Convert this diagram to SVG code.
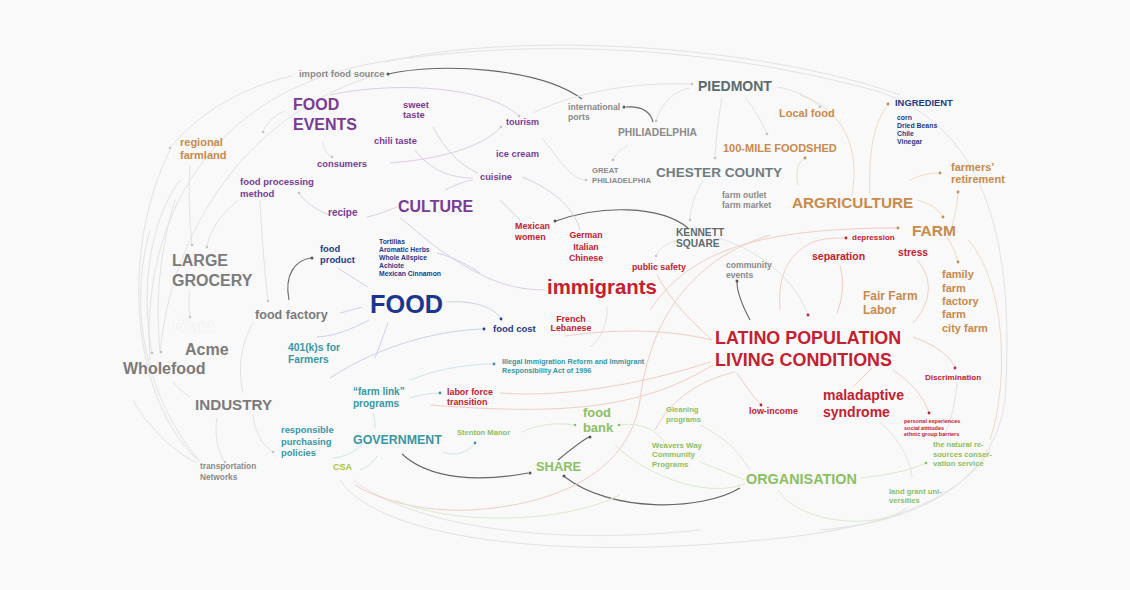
<svg xmlns="http://www.w3.org/2000/svg" width="1130" height="590" viewBox="0 0 1130 590">
<defs>
<style>
text{font-family:"Liberation Sans",Arial,sans-serif;font-weight:bold}
.pu{fill:#7a3b97}.or{fill:#c98a4b}.nv{fill:#1e3a8c}.rd{fill:#c4202f}.gy{fill:#7b7b7b}.lg{fill:#8a8a8a}.sl{fill:#5d6b70}.tl{fill:#3797a6}.gr{fill:#8cbf63}.cs{fill:#a9c43c}
.c{fill:none;stroke-width:1}
.dk{stroke:#666;stroke-width:1.1}
.lt{stroke:#e3e3e3}
.lp{stroke:#dccfe4}
.pk{stroke:#f1cdc4}
.po{stroke:#eedbc6}
.pg{stroke:#dcebd0}
.pb{stroke:#ccd2ea}
.pt{stroke:#cde6ea}
.d{fill:#555}
.dl{fill:#c4c4c4}
</style>
</defs>
<rect width="1130" height="590" fill="#f9f9f9"/>
<g id="connectors">
<path class="c lt" d="M150,360 C140,220 210,90 380,62 C520,40 700,42 880,92 C990,130 1015,250 1005,400 C995,470 940,520 820,530"/>
<path class="c lt" d="M160,355 C170,230 250,110 380,74"/>
<path class="c lt" d="M385,62 C520,30 760,45 900,95"/>
<path class="c lt" d="M200,462 C130,400 120,250 170,150"/>
<path class="c lt" d="M340,480 C380,540 560,560 760,540 C880,530 960,500 990,450"/>
<path class="c lt" d="M353,480 C420,530 560,545 700,530"/>
<path class="c lt" d="M150,230 C130,300 140,390 200,462"/>
<path class="c dk" d="M388,74 C440,62 540,68 582,99"/>
<path class="c dk" d="M653,122 C650,110 640,106 626,107"/>
<path class="c dk" d="M688,228 C660,205 600,205 556,221"/>
<path class="c dk" d="M289,300 C284,275 295,260 311,258"/>
<path class="c dk" d="M402,454 C430,480 480,482 528,473"/>
<path class="c dk" d="M558,460 C570,450 580,442 589,437"/>
<path class="c dk" d="M740,488 C700,512 610,512 565,477"/>
<path class="c dk" d="M750,320 C742,305 737,292 737,282"/>
<path class="c lt" d="M292,76 C250,85 200,110 170,148"/>
<path class="c lt" d="M285,111 C272,116 266,124 263,132"/>
<path class="c lt" d="M323,142 C324,150 328,155 332,157"/>
<path class="c lt" d="M533,113 C580,90 640,82 690,84"/>
<path class="c lt" d="M542,138 C560,160 570,178 585,180"/>
<path class="c lt" d="M628,145 C620,150 615,155 613,160"/>
<path class="c lt" d="M690,88 C670,92 660,108 656,121"/>
<path class="c lt" d="M777,87 C795,90 812,98 820,107"/>
<path class="c lt" d="M745,97 C755,110 762,122 767,134"/>
<path class="c lt" d="M722,97 C718,120 716,140 715,158"/>
<path class="c lt" d="M703,180 C695,195 690,208 690,220"/>
<path class="c lt" d="M677,240 C665,244 658,250 656,256"/>
<path class="c lt" d="M718,238 C760,250 795,280 808,315"/>
<path class="c lt" d="M190,165 C188,200 190,225 192,245"/>
<path class="c lt" d="M238,200 C220,215 210,230 207,247"/>
<path class="c lt" d="M190,292 C188,300 189,310 190,317"/>
<path class="c lt" d="M260,200 C262,240 265,275 268,301"/>
<path class="c lt" d="M253,323 C240,345 238,370 243,393"/>
<path class="c lt" d="M173,382 C178,388 184,393 190,397"/>
<path class="c lt" d="M217,418 C214,435 218,452 225,462"/>
<path class="c lt" d="M253,415 C255,432 262,445 273,452"/>
<path class="c lt" d="M133,400 C150,430 175,452 197,463"/>
<path class="c lt" d="M160,352 C155,300 160,250 175,200"/>
<path class="c lt" d="M152,353 C140,290 150,220 180,180"/>
<path class="c lt" d="M607,307 C608,325 600,340 590,347"/>
<path class="c lt" d="M880,422 C900,440 910,460 912,477"/>
<path class="c lt" d="M957,383 C955,405 950,425 943,437"/>
<path class="c lp" d="M390,163 C430,160 480,150 501,127"/>
<path class="c lp" d="M330,95 C400,80 490,88 519,116"/>
<path class="c lp" d="M433,127 C445,150 460,165 478,173"/>
<path class="c lp" d="M415,150 C430,170 450,178 473,178"/>
<path class="c lp" d="M445,190 C455,185 465,181 473,180"/>
<path class="c lp" d="M522,177 C555,190 575,210 580,230"/>
<path class="c lp" d="M500,200 C508,208 514,214 520,220"/>
<path class="c lp" d="M330,215 C315,210 303,200 299,193"/>
<path class="c lp" d="M367,217 C378,215 388,210 397,207"/>
<path class="c lp" d="M545,290 C500,290 470,270 440,250 C420,235 410,225 400,218"/>
<path class="c pb" d="M338,268 C350,276 360,282 368,287"/>
<path class="c pb" d="M340,313 C348,311 355,309 362,307"/>
<path class="c pb" d="M369,320 C350,330 335,336 317,337"/>
<path class="c pb" d="M446,302 C475,300 495,308 501,319"/>
<path class="c pb" d="M330,378 C380,345 440,330 484,329"/>
<path class="c pb" d="M388,323 C382,340 378,350 375,358"/>
<path class="c pb" d="M437,253 C455,258 470,266 480,273"/>
<path class="c pt" d="M373,413 C375,420 375,424 375,428"/>
<path class="c pt" d="M363,443 C355,452 345,457 333,458"/>
<path class="c pt" d="M377,456 C372,464 366,468 360,470"/>
<path class="c pt" d="M410,398 C420,395 430,393 440,393"/>
<path class="c pt" d="M410,380 C440,368 470,364 494,364"/>
<path class="c pt" d="M443,452 C455,457 468,452 475,443"/>
<path class="c pk" d="M712,340 C670,330 620,328 565,336"/>
<path class="c pk" d="M712,340 C690,320 670,300 657,275"/>
<path class="c pk" d="M650,310 C690,250 760,228 898,228"/>
<path class="c pk" d="M780,310 C778,280 785,255 813,242 C825,238 835,238 846,238"/>
<path class="c pk" d="M710,362 C640,385 560,398 500,393"/>
<path class="c pk" d="M713,365 C640,410 560,415 430,405"/>
<path class="c pk" d="M770,235 C690,260 650,320 640,400 C630,470 560,505 470,510 C420,512 380,500 355,485"/>
<path class="c pk" d="M840,265 C845,285 842,300 837,313"/>
<path class="c pk" d="M917,260 C935,280 930,305 913,323"/>
<path class="c pk" d="M913,337 C935,345 950,355 955,368"/>
<path class="c pk" d="M893,370 C915,385 925,400 929,413"/>
<path class="c pk" d="M737,373 C745,385 752,395 761,405"/>
<path class="c pk" d="M872,368 C865,375 858,382 853,387"/>
<path class="c pk" d="M735,372 C700,380 670,400 655,430"/>
<path class="c po" d="M800,95 C845,110 860,150 852,195"/>
<path class="c po" d="M798,185 C795,172 798,162 805,158"/>
<path class="c po" d="M870,195 C868,150 875,120 888,105"/>
<path class="c po" d="M917,200 C930,203 940,210 943,217"/>
<path class="c po" d="M950,233 C955,218 957,205 958,192"/>
<path class="c po" d="M910,180 C920,175 930,173 940,173"/>
<path class="c po" d="M947,237 C952,245 956,253 958,262"/>
<path class="c po" d="M968,240 C1005,280 1010,380 990,440"/>
<path class="c pg" d="M522,432 C535,425 555,422 575,425"/>
<path class="c pg" d="M619,425 C640,422 660,430 665,445"/>
<path class="c pg" d="M700,462 C720,470 735,476 745,480"/>
<path class="c pg" d="M700,425 C730,440 740,455 750,470"/>
<path class="c pg" d="M860,478 C890,475 910,470 926,463"/>
<path class="c pg" d="M778,490 C800,525 880,530 906,508"/>
<path class="c pg" d="M745,484 C700,500 640,470 615,445"/>
<path class="c pg" d="M395,500 C450,525 560,525 620,495"/>
</g>
<g id="dots">
<circle class="d" cx="388" cy="74" r="1.5"/><circle class="d" cx="624" cy="107" r="1.5"/><circle class="d" cx="555" cy="221" r="1.5"/><circle class="d" cx="312" cy="258" r="1.5"/><circle class="d" cx="530" cy="473" r="1.5"/><circle class="d" cx="590" cy="437" r="1.5"/><circle class="d" cx="564" cy="476" r="1.5"/><circle class="d" cx="737" cy="281" r="1.5"/>
<circle class="dl" cx="170" cy="148" r="1.3"/><circle class="dl" cx="332" cy="157" r="1.3"/><circle class="dl" cx="501" cy="127" r="1.3"/><circle class="dl" cx="519" cy="116" r="1.3"/><circle class="dl" cx="586" cy="180" r="1.3"/><circle class="dl" cx="613" cy="160" r="1.3"/><circle class="dl" cx="656" cy="121" r="1.3"/><circle class="dl" cx="692" cy="84" r="1.3"/><circle class="dl" cx="820" cy="107" r="1.3"/><circle class="dl" cx="767" cy="134" r="1.3"/><circle class="dl" cx="715" cy="158" r="1.3"/><circle class="dl" cx="690" cy="220" r="1.3"/><circle class="dl" cx="656" cy="256" r="1.3"/><circle class="dl" cx="192" cy="245" r="1.3"/><circle class="dl" cx="207" cy="247" r="1.3"/><circle class="dl" cx="190" cy="317" r="1.3"/><circle class="dl" cx="268" cy="301" r="1.3"/><circle class="dl" cx="152" cy="353" r="1.3"/><circle class="dl" cx="161" cy="352" r="1.3"/><circle class="dl" cx="225" cy="462" r="1.3"/><circle class="dl" cx="273" cy="452" r="1.3"/><circle class="dl" cx="299" cy="193" r="1.3"/><circle class="dl" cx="263" cy="132" r="1.3"/>
<circle fill="#1e3a8c" cx="501" cy="319" r="1.4"/><circle fill="#1e3a8c" cx="484" cy="329" r="1.4"/><circle fill="#3797a6" cx="494" cy="364" r="1.4"/><circle fill="#3797a6" cx="440" cy="393" r="1.4"/><circle fill="#3797a6" cx="475" cy="443" r="1.4"/>
<circle fill="#c4202f" cx="846" cy="238" r="1.4"/><circle fill="#c4202f" cx="955" cy="368" r="1.4"/><circle fill="#c4202f" cx="929" cy="413" r="1.4"/><circle fill="#c4202f" cx="761" cy="405" r="1.4"/><circle fill="#c4202f" cx="808" cy="315" r="1.4"/>
<circle fill="#c98a4b" cx="888" cy="104" r="1.4"/><circle fill="#c98a4b" cx="805" cy="158" r="1.4"/><circle fill="#c98a4b" cx="943" cy="217" r="1.4"/><circle fill="#c98a4b" cx="958" cy="192" r="1.4"/><circle fill="#c98a4b" cx="940" cy="173" r="1.4"/><circle fill="#c98a4b" cx="958" cy="262" r="1.4"/><circle fill="#c98a4b" cx="898" cy="228" r="1.4"/>
<circle fill="#8cbf63" cx="926" cy="463" r="1.3"/><circle fill="#8cbf63" cx="575" cy="425" r="1.3"/><circle fill="#8cbf63" cx="619" cy="425" r="1.3"/>
</g>
<g id="n-import"><text class="lg" x="299" y="77" font-size="9.4">import food source</text></g>
<g id="n-foodevents"><text class="pu" x="293" y="110" font-size="16">FOOD</text><text class="pu" x="293" y="130" font-size="16">EVENTS</text></g>
<g id="n-sweet"><text class="pu" x="403" y="108" font-size="9.3">sweet</text><text class="pu" x="403" y="118" font-size="9.3">taste</text></g>
<g id="n-chili"><text class="pu" x="374" y="144" font-size="9.3">chili taste</text></g>
<g id="n-tourism"><text class="pu" x="506" y="125" font-size="9">tourism</text></g>
<g id="n-ports"><text class="lg" x="568" y="110" font-size="8.7">international</text><text class="lg" x="568" y="120" font-size="8.7">ports</text></g>
<g id="n-piedmont"><text class="sl" x="698" y="91" font-size="14">PIEDMONT</text></g>
<g id="n-localfood"><text class="or" x="779" y="117" font-size="11">Local food</text></g>
<g id="n-ingredient"><text class="nv" x="895" y="106" font-size="9.4">INGREDIENT</text>
<text class="nv" x="897" y="120" font-size="6.9">corn</text><text class="nv" x="897" y="128" font-size="6.9">Dried Beans</text><text class="nv" x="897" y="136" font-size="6.9">Chile</text><text class="nv" x="897" y="144" font-size="6.9">Vinegar</text></g>
<g id="n-phila"><text class="lg" x="618" y="136" font-size="10.3">PHILIADELPHIA</text></g>
<g id="n-foodshed"><text class="or" x="723" y="152" font-size="11">100-MILE FOODSHED</text></g>
<g id="n-regional"><text class="or" x="180" y="146" font-size="11">regional</text><text class="or" x="180" y="159" font-size="11">farmland</text></g>
<g id="n-consumers"><text class="pu" x="317" y="167" font-size="9.4">consumers</text></g>
<g id="n-icecream"><text class="pu" x="496" y="157" font-size="9.3">ice cream</text></g>
<g id="n-greatphila"><text class="lg" x="592" y="173" font-size="7.7">GREAT</text><text class="lg" x="592" y="183" font-size="7.7">PHILIADELPHIA</text></g>
<g id="n-chester"><text fill="#6e7c82" x="656" y="177" font-size="13.6">CHESTER COUNTY</text></g>
<g id="n-retirement"><text class="or" x="951" y="171" font-size="11">farmers’</text><text class="or" x="951" y="183" font-size="11">retirement</text></g>
<g id="n-cuisine"><text class="pu" x="480" y="180" font-size="9.3">cuisine</text></g>
<g id="n-processing"><text class="pu" x="240" y="185" font-size="9.5">food processing</text><text class="pu" x="240" y="197" font-size="9.5">method</text></g>
<g id="n-farmoutlet"><text class="lg" x="722" y="198" font-size="8.6">farm outlet</text><text class="lg" x="722" y="208" font-size="8.6">farm market</text></g>
<g id="n-agriculture"><text class="or" x="792" y="208" font-size="15.3">ARGRICULTURE</text></g>
<g id="n-recipe"><text class="pu" x="328" y="216" font-size="10">recipe</text></g>
<g id="n-culture"><text class="pu" x="398" y="212" font-size="16">CULTURE</text></g>
<g id="n-mexwomen"><text class="rd" x="515" y="229" font-size="8.9">Mexican</text><text class="rd" x="515" y="240" font-size="8.9">women</text></g>
<g id="n-german"><text class="rd" x="586" y="238" font-size="8.8" text-anchor="middle">German</text><text class="rd" x="586" y="250" font-size="8.8" text-anchor="middle">Italian</text><text class="rd" x="586" y="261" font-size="8.8" text-anchor="middle">Chinese</text></g>
<g id="n-kennett"><text class="sl" x="676" y="236" font-size="10.2">KENNETT</text><text class="sl" x="676" y="247" font-size="10.2">SQUARE</text></g>
<g id="n-farm"><text class="or" x="912" y="236" font-size="15.5">FARM</text></g>
<g id="n-depression"><text class="rd" x="852" y="240" font-size="8">depression</text></g>
<g id="n-separation"><text class="rd" x="812" y="260" font-size="10.5">separation</text></g>
<g id="n-stress"><text class="rd" x="898" y="256" font-size="10.2">stress</text></g>
<g id="n-foodproduct"><text class="nv" x="320" y="252" font-size="9.4">food</text><text class="nv" x="320" y="263" font-size="9.4">product</text></g>
<g id="n-ingredients2"><text class="nv" x="379" y="244" font-size="6.8">Tortillas</text><text class="nv" x="379" y="252" font-size="6.8">Aromatic Herbs</text><text class="nv" x="379" y="260" font-size="6.8">Whole Allspice</text><text class="nv" x="379" y="268" font-size="6.8">Achiote</text><text class="nv" x="379" y="276" font-size="6.8">Mexican Cinnamon</text></g>
<g id="n-grocery"><text class="gy" x="172" y="266" font-size="16">LARGE</text><text class="gy" x="172" y="286" font-size="16">GROCERY</text></g>
<g id="n-safety"><text class="rd" x="632" y="270" font-size="8.8">public safety</text></g>
<g id="n-community"><text class="lg" x="726" y="268" font-size="8.6">community</text><text class="lg" x="726" y="278" font-size="8.6">events</text></g>
<g id="n-familyfarm"><text class="or" x="942" y="278" font-size="11">family</text><text class="or" x="942" y="292" font-size="11">farm</text><text class="or" x="942" y="305" font-size="11">factory</text><text class="or" x="942" y="318" font-size="11">farm</text><text class="or" x="942" y="332" font-size="11">city farm</text></g>
<g id="n-immigrants"><text class="rd" x="547" y="294" font-size="20.4">immigrants</text></g>
<g id="n-fairfarm"><text class="or" x="863" y="300" font-size="12">Fair Farm</text><text class="or" x="863" y="314" font-size="12">Labor</text></g>
<g id="n-food"><text fill="#1a3690" x="370" y="313" font-size="25.3">FOOD</text></g>
<g id="n-foodfactory"><text class="gy" x="255" y="319" font-size="12.6">food factory</text></g>
<g id="n-giant"><text fill="#ffffff" stroke="#eeeeee" stroke-width="0.5" x="173" y="332" font-size="16">Giant</text></g>
<g id="n-french"><text class="rd" x="571" y="322" font-size="8.9" text-anchor="middle">French</text><text class="rd" x="571" y="331" font-size="8.9" text-anchor="middle">Lebanese</text></g>
<g id="n-foodcost"><text class="nv" x="493" y="332" font-size="9.5">food cost</text></g>
<g id="n-acme"><text class="gy" x="185" y="355" font-size="16">Acme</text></g>
<g id="n-401k"><text class="tl" x="288" y="351" font-size="10.3">401(k)s for</text><text class="tl" x="288" y="363" font-size="10.3">Farmers</text></g>
<g id="n-latino"><text class="rd" x="715" y="344" font-size="17.9">LATINO POPULATION</text><text class="rd" x="715" y="366" font-size="17.9">LIVING CONDITIONS</text></g>
<g id="n-illegal"><text class="tl" x="502" y="364" font-size="7.2">Illegal Immigration Reform and Immigrant</text><text class="tl" x="502" y="373" font-size="7.2">Responsibility Act of 1996</text></g>
<g id="n-wholefood"><text class="gy" x="123" y="374" font-size="16">Wholefood</text></g>
<g id="n-discrimination"><text class="rd" x="925" y="380" font-size="8.1">Discrimination</text></g>
<g id="n-farmlink"><text class="tl" x="353" y="395" font-size="10">“farm link”</text><text class="tl" x="353" y="407" font-size="10">programs</text></g>
<g id="n-labor"><text class="rd" x="447" y="395" font-size="8.9">labor force</text><text class="rd" x="447" y="405" font-size="8.9">transition</text></g>
<g id="n-industry"><text class="gy" x="195" y="410" font-size="15.2">INDUSTRY</text></g>
<g id="n-maladaptive"><text class="rd" x="823" y="400" font-size="14">maladaptive</text><text class="rd" x="823" y="417" font-size="14">syndrome</text></g>
<g id="n-lowincome"><text class="rd" x="749" y="414" font-size="8.9">low-income</text></g>
<g id="n-gleaning"><text class="gr" x="666" y="412" font-size="7.6">Gleaning</text><text class="gr" x="666" y="422" font-size="7.6">programs</text></g>
<g id="n-foodbank"><text class="gr" x="583" y="417" font-size="12.9">food</text><text class="gr" x="583" y="432" font-size="12.9">bank</text></g>
<g id="n-personal"><text class="rd" x="904" y="423" font-size="5.5">personal experiences</text><text class="rd" x="904" y="430" font-size="5.5">social attitudes</text><text class="rd" x="904" y="436" font-size="5.5">ethnic group barriers</text></g>
<g id="n-responsible"><text class="tl" x="281" y="433" font-size="9.4">responsible</text><text class="tl" x="281" y="445" font-size="9.4">purchasing</text><text class="tl" x="281" y="456" font-size="9.4">policies</text></g>
<g id="n-stenton"><text class="gr" x="457" y="435" font-size="7.6">Stenton Manor</text></g>
<g id="n-government"><text class="tl" x="353" y="444" font-size="12.4">GOVERNMENT</text></g>
<g id="n-weavers"><text class="gr" x="652" y="448" font-size="7.8">Weavers Way</text><text class="gr" x="652" y="457" font-size="7.8">Community</text><text class="gr" x="652" y="467" font-size="7.8">Programs</text></g>
<g id="n-natural"><text class="gr" x="933" y="447" font-size="7.6">the natural re-</text><text class="gr" x="933" y="457" font-size="7.6">sources conser-</text><text class="gr" x="933" y="466" font-size="7.6">vation service</text></g>
<g id="n-transport"><text class="lg" x="200" y="469" font-size="8.3">transportation</text><text class="lg" x="200" y="480" font-size="8.3">Networks</text></g>
<g id="n-csa"><text class="cs" x="333" y="470" font-size="9">CSA</text></g>
<g id="n-share"><text class="gr" x="536" y="471" font-size="12.9">SHARE</text></g>
<g id="n-organisation"><text class="gr" x="746" y="484" font-size="14.4">ORGANISATION</text></g>
<g id="n-landgrant"><text class="gr" x="889" y="494" font-size="7.6">land grant uni-</text><text class="gr" x="889" y="503" font-size="7.6">versities</text></g>
</svg>
